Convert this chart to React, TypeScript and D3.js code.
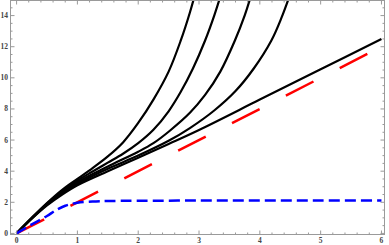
import React from 'react';
import * as d3 from 'd3';

// values
const xTicks = [0, 1, 2, 3, 4, 5, 6];
const yTicks = [0, 2, 4, 6, 8, 10, 12, 14];

const curveA: [number, number][] = [[0, 0], [0.25, 0.95], [0.5, 1.8], [0.75, 2.5], [1, 3.1], [1.5, 4.0], [2, 4.87], [2.5, 5.75], [3, 6.65], [4, 8.6], [5, 10.55], [6, 12.5]];
const curveB: [number, number][] = [[0, 0], [0.25, 0.97], [0.5, 1.85], [0.75, 2.6], [1, 3.2], [1.5, 4.15], [2, 5.0], [2.5, 5.95], [2.85, 6.77], [3.25, 7.9], [3.6, 9.15], [3.9, 10.6], [4.19, 12.4], [4.35, 13.8], [4.52, 15.6]];
const curveC: [number, number][] = [[0, 0], [0.25, 0.98], [0.5, 1.9], [0.75, 2.65], [1, 3.3], [1.5, 4.3], [2, 5.25], [2.25, 5.8], [2.52, 6.6], [2.85, 7.75], [3.1, 8.9], [3.35, 10.4], [3.59, 12.4], [3.75, 14.0], [3.88, 15.6]];
const curveD: [number, number][] = [[0, 0], [0.25, 0.99], [0.5, 1.92], [0.75, 2.72], [1, 3.4], [1.25, 3.98], [1.5, 4.55], [1.75, 5.12], [2, 5.8], [2.25, 6.66], [2.5, 7.85], [2.7, 9.1], [2.9, 10.6], [3.1, 12.4], [3.25, 14.0], [3.38, 15.6]];
const curveE: [number, number][] = [[0, 0], [0.25, 1.0], [0.5, 1.95], [0.75, 2.8], [1, 3.5], [1.25, 4.2], [1.5, 4.95], [1.75, 5.85], [2, 7.1], [2.25, 8.6], [2.5, 10.4], [2.7, 12.4], [2.85, 14.2], [2.95, 15.6]];
const blackCurves = [curveA, curveB, curveC, curveD, curveE];

const redLine: [number, number][] = [[0, 0], [6, 12]];
const blueCurve: [number, number][] = [[0, 0], [0.25, 0.58], [0.5, 1.12], [0.65, 1.5], [0.8, 1.78], [1, 1.97], [1.25, 2.05], [1.5, 2.08], [2, 2.1], [3, 2.11], [4, 2.12], [5, 2.12], [6, 2.12]];

const W = 389;
const H = 245;
const left = 10.5, right = 384.5, top = 0.5, bottom = 234.5;

const App: React.FC = () => {
  const x = d3.scaleLinear().domain([-0.1, 6.05]).range([left, right]);
  const y = d3.scaleLinear().domain([-0.07, 14.97]).range([bottom, top]);

  const line = d3.line<[number, number]>()
    .x(d => x(d[0]))
    .y(d => y(d[1]))
    .curve(d3.curveCatmullRom.alpha(0.5));

  const xMinor = d3.range(0, 6.01, 0.2).filter(v => Math.abs(v - Math.round(v)) > 0.01);
  const yMinor = d3.range(0, 15.01, 0.5).filter(v => Math.abs(v / 2 - Math.round(v / 2)) > 0.01);

  const frame = '#9a9a9a';
  const labelStyle = { fontFamily: '"Liberation Serif", serif', fontSize: 7.5, fontWeight: 700, fill: '#444' } as const;

  return (
    <svg width={W} height={H} style={{ position: 'absolute', left: 0, top: 0, background: '#fff' }}>
      <defs>
        <clipPath id="plot">
          <rect x={left} y={top} width={right - left} height={bottom - top} />
        </clipPath>
      </defs>

      <g clipPath="url(#plot)">
        {blackCurves.map((c, i) => (
          <path key={i} d={line(c) || ''} fill="none" stroke="#000" strokeWidth={2.2} />
        ))}
        <path d={line(redLine) || ''} fill="none" stroke="#ff0000" strokeWidth={2.5} strokeDasharray="31,29.5" />
        <path d={line(blueCurve) || ''} fill="none" stroke="#0000ff" strokeWidth={2.5} strokeDasharray="11,5" />
      </g>

      {/* frame */}
      <rect x={left} y={top} width={right - left} height={bottom - top} fill="none" stroke={frame} strokeWidth={1} />

      {/* x ticks (bottom and top) */}
      {xTicks.map(t => (
        <g key={'xt' + t}>
          <line x1={x(t)} x2={x(t)} y1={bottom} y2={bottom - 4} stroke={frame} />
          <line x1={x(t)} x2={x(t)} y1={top} y2={top + 4} stroke={frame} />
          <text x={x(t)} y={243} textAnchor="middle" style={labelStyle}>{t}</text>
        </g>
      ))}
      {xMinor.map(t => (
        <g key={'xm' + t}>
          <line x1={x(t)} x2={x(t)} y1={bottom} y2={bottom - 2} stroke={frame} />
          <line x1={x(t)} x2={x(t)} y1={top} y2={top + 2} stroke={frame} />
        </g>
      ))}

      {/* y ticks (left and right) */}
      {yTicks.map(t => (
        <g key={'yt' + t}>
          <line x1={left} x2={left + 4} y1={y(t)} y2={y(t)} stroke={frame} />
          <line x1={right} x2={right - 4} y1={y(t)} y2={y(t)} stroke={frame} />
          <text x={8} y={y(t) + 2.5} textAnchor="end" style={labelStyle}>{t}</text>
        </g>
      ))}
      {yMinor.map(t => (
        <g key={'ym' + t}>
          <line x1={left} x2={left + 2} y1={y(t)} y2={y(t)} stroke={frame} />
          <line x1={right} x2={right - 2} y1={y(t)} y2={y(t)} stroke={frame} />
        </g>
      ))}
    </svg>
  );
};

export default App;
